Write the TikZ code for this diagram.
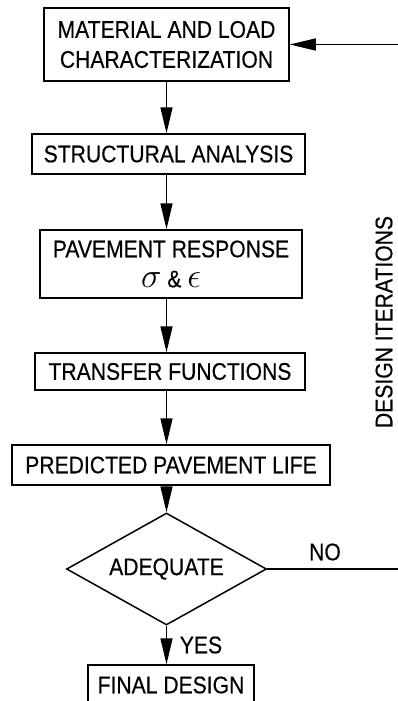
\documentclass[tikz,border=0pt]{standalone}
\usepackage{fontspec}
\newfontfamily\flowfont{Liberation Sans}[FakeStretch=0.88, FakeBold=0.4]
\usetikzlibrary{shapes.geometric, arrows.meta}

\begin{document}
\begin{tikzpicture}[x=1pt, y=-1pt, font=\flowfont\fontsize{24}{30}\selectfont,
    stepbox/.style={draw, line width=1.5pt, align=center, inner sep=0pt},
    flowarrow/.style={line width=1.5pt, -{Triangle[length=26pt, width=12pt]}}]
    \useasboundingbox (0,0) rectangle (398,701);

    \node[stepbox, minimum width=245pt, minimum height=73pt] (MLC) at (166.5, 44.5)  {MATERIAL AND LOAD\\CHARACTERIZATION};
    \node[stepbox, minimum width=273pt, minimum height=40pt] (SA)  at (168.5, 154)   {STRUCTURAL ANALYSIS};
    \node[stepbox, minimum width=262pt, minimum height=68pt] (PR)  at (171, 264)     {PAVEMENT RESPONSE\\\scalebox{1.39}{$\sigma$} \& \scalebox{1.39}{$\epsilon$}};
    \node[stepbox, minimum width=270pt, minimum height=37pt] (TF)  at (170, 371.5)   {TRANSFER FUNCTIONS};
    \node[stepbox, minimum width=318pt, minimum height=40pt] (PPL) at (171, 465)     {PREDICTED PAVEMENT LIFE};
    \node[stepbox, diamond, aspect=1.8, minimum width=200pt, minimum height=112pt] (ADQ) at (166.5, 569) {ADEQUATE};
    \node[stepbox, minimum width=166pt, minimum height=40pt] (FD)  at (171, 685)     {FINAL DESIGN};

    \node[] (NO)  at (325, 552) {NO};
    \node[] (YES) at (201, 645) {YES};
    \node[rotate=90] (DI) at (384, 322) {DESIGN ITERATIONS};

    \coordinate (loopbot) at (405, 569);
    \coordinate (looptop) at (405, 44.5);

    \draw[flowarrow] (MLC.south) -- (MLC.south |- SA.north);
    \draw[flowarrow] (SA.south -| MLC.south)  -- (MLC.south |- PR.north);
    \draw[flowarrow] (PR.south -| MLC.south)  -- (MLC.south |- TF.north);
    \draw[flowarrow] (TF.south -| MLC.south)  -- (MLC.south |- PPL.north);
    \draw[flowarrow] (PPL.south -| MLC.south) -- (ADQ.north);
    \draw[flowarrow] (ADQ.south) -- (ADQ.south |- FD.north);

    \draw[flowarrow] (ADQ.east) -- (loopbot) -- (looptop) -- (MLC.east);
\end{tikzpicture}
\end{document}
